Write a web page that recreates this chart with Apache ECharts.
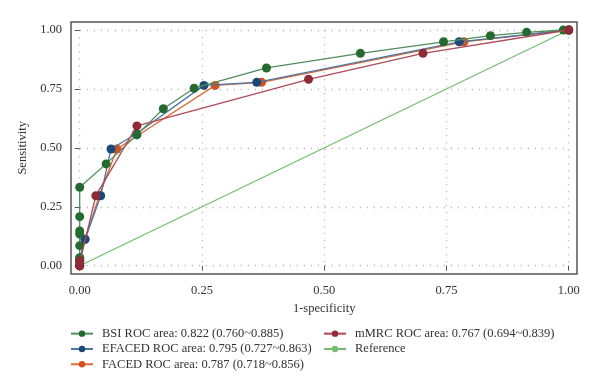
<!DOCTYPE html>
<html>
<head>
<meta charset="utf-8">
<script src="https://cdn.jsdelivr.net/npm/echarts@6/dist/echarts.min.js"></script>
<style>html,body{margin:0;padding:0;background:#fff;}#c{width:600px;height:392px;}</style>
</head>
<body>
<div id="c"></div>
<script>
// ---- data ----
const tickValues = [0, 0.25, 0.5, 0.75, 1];
const seriesNames = [
  'BSI ROC area: 0.822 (0.760~0.885)',
  'EFACED ROC area: 0.795 (0.727~0.863)',
  'FACED ROC area: 0.787 (0.718~0.856)',
  'mMRC ROC area: 0.767 (0.694~0.839)',
  'Reference'
];
const bsiX = [0, 0, 0, 0, 0, 0, 0, 0, 0.054, 0.117, 0.171, 0.234, 0.382, 0.574, 0.744, 0.840, 0.914, 0.989, 1];
const bsiY = [0, 0.024, 0.034, 0.085, 0.134, 0.147, 0.208, 0.333, 0.432, 0.555, 0.666, 0.753, 0.839, 0.901, 0.950, 0.976, 0.990, 1.0, 1];
const efacedX = [0, 0, 0, 0.011, 0.043, 0.064, 0.116, 0.254, 0.362, 0.776, 1];
const efacedY = [0, 0.021, 0.031, 0.112, 0.297, 0.495, 0.560, 0.765, 0.778, 0.950, 1];
const facedX = [0, 0, 0.011, 0.040, 0.076, 0.277, 0.372, 0.786, 1];
const facedY = [0, 0.021, 0.112, 0.297, 0.495, 0.765, 0.778, 0.950, 1];
const mmrcX = [0, 0, 0, 0.033, 0.117, 0.468, 0.702, 1];
const mmrcY = [0, 0.013, 0.021, 0.297, 0.593, 0.791, 0.901, 1];
const refX = [0, 1];
const refY = [0, 1];

const pairs = (xs, ys) => xs.map((x, i) => [x, ys[i]]);
const FONT = 'Liberation Serif';

const chart = echarts.init(document.getElementById('c'), null, {renderer: 'canvas'});

function rocSeries(name, xs, ys, marker, line, z) {
  return {
    name: name, type: 'line', data: pairs(xs, ys),
    symbol: 'circle', symbolSize: 9, clip: false, z: z,
    itemStyle: {color: marker},
    lineStyle: {color: line, width: 1.3},
    emphasis: {disabled: true}
  };
}

const legendBase = {
  orient: 'vertical', top: 326, padding: 0, itemGap: 0,
  itemWidth: 22, itemHeight: 8,
  textStyle: {fontFamily: FONT, fontSize: 12.5, color: '#333', lineHeight: 15.3, padding: [0, 0, 0, 4]},
  selectedMode: false
};

chart.setOption({
  animation: false,
  backgroundColor: '#fff',
  grid: {left: 79.7, right: 31.3, top: 30, bottom: 126.3, containLabel: false},
  graphic: [{
    type: 'rect', z: 1,
    shape: {x: 71, y: 22, width: 506, height: 252},
    style: {fill: null, stroke: '#555', lineWidth: 1.5}
  }],
  xAxis: {
    type: 'value', min: 0, max: 1, interval: 0.25, offset: 8.3,
    name: '1-specificity', nameLocation: 'middle', nameGap: 26.5,
    nameTextStyle: {fontFamily: FONT, fontSize: 12.5, color: '#333'},
    axisLine: {show: false},
    axisTick: {show: true, length: 5, lineStyle: {color: '#555', width: 1}},
    axisLabel: {fontFamily: FONT, fontSize: 12.5, color: '#333', margin: 10,
      formatter: v => v.toFixed(2)},
    splitLine: {show: true, lineStyle: {color: '#bdbdbd', width: 1.3, type: [1.3, 5.7]}}
  },
  yAxis: {
    type: 'value', min: 0, max: 1, interval: 0.25, offset: 8.7,
    name: 'Sensitivity', nameLocation: 'middle', nameGap: 36,
    nameTextStyle: {fontFamily: FONT, fontSize: 12.5, color: '#333'},
    axisLine: {show: false},
    axisTick: {show: true, length: 5, lineStyle: {color: '#555', width: 1}},
    axisLabel: {fontFamily: FONT, fontSize: 12.5, color: '#333', margin: 9,
      formatter: v => v.toFixed(2)},
    splitLine: {show: true, lineStyle: {color: '#bdbdbd', width: 1.3, type: [1.3, 5.7]}}
  },
  legend: [
    Object.assign({}, legendBase, {left: 70, data: seriesNames.slice(0, 3)}),
    Object.assign({}, legendBase, {left: 323, data: seriesNames.slice(3)})
  ],
  series: [
    {
      name: seriesNames[4], type: 'line', data: pairs(refX, refY), symbol: 'none', z: 2,
      lineStyle: {color: '#74bc70', width: 1.2}, itemStyle: {color: '#74bc70'},
      emphasis: {disabled: true}
    },
    rocSeries(seriesNames[2], facedX, facedY, '#d4521d', '#e06a35', 3),
    rocSeries(seriesNames[1], efacedX, efacedY, '#1b4a7a', '#4b74a2', 4),
    rocSeries(seriesNames[0], bsiX, bsiY, '#236b30', '#4f8e58', 5),
    rocSeries(seriesNames[3], mmrcX, mmrcY, '#8e2b37', '#ad4a57', 6)
  ]
});
</script>
</body>
</html>
